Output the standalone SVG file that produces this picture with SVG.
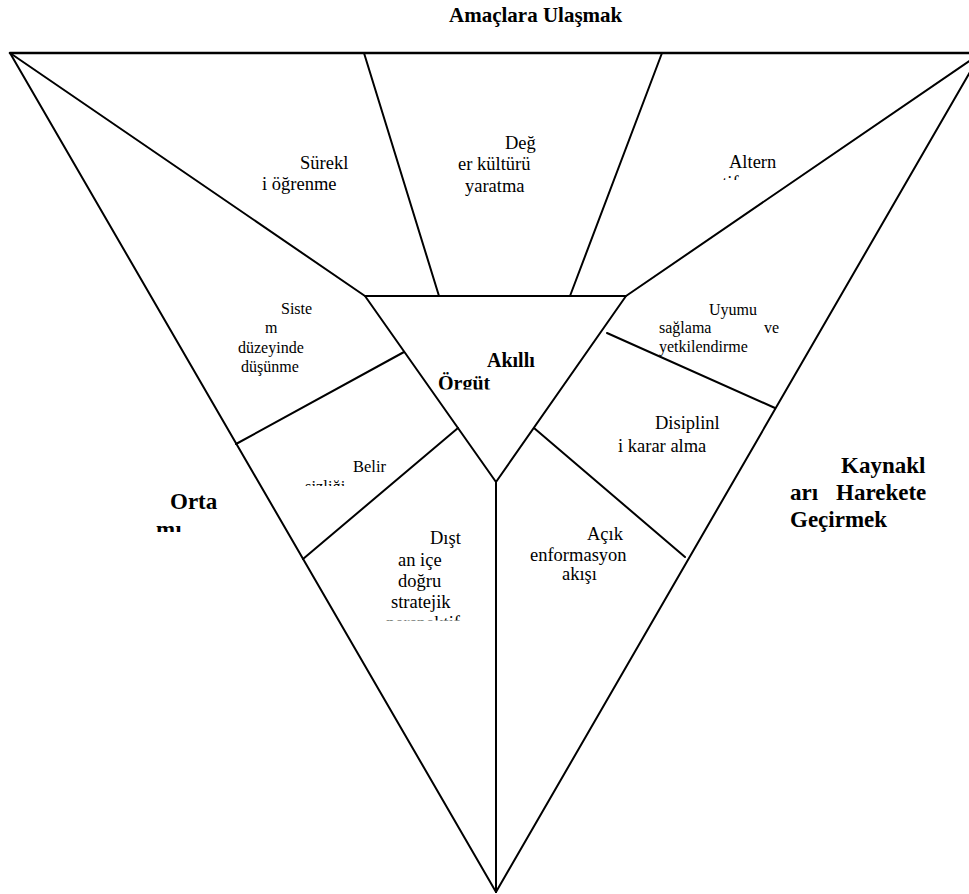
<svg xmlns="http://www.w3.org/2000/svg" width="969" height="894" viewBox="0 0 969 894">
<style>
.ln{stroke:#000;stroke-width:2;fill:none;stroke-linecap:round;stroke-linejoin:round}
.t{font-family:"Liberation Serif","Times New Roman",serif;fill:#000}
.r18{font-size:18.5px}
.r16{font-size:16px}
.b{font-weight:bold}
</style>
<defs>
<clipPath id="cAlt"><rect x="600" y="140" width="200" height="40"/></clipPath>
<clipPath id="cOrg"><rect x="400" y="340" width="200" height="49.5"/></clipPath>
<clipPath id="cBel"><rect x="290" y="450" width="120" height="36"/></clipPath>
<clipPath id="cOrta"><rect x="140" y="480" width="120" height="52"/></clipPath>
<clipPath id="cDis"><rect x="370" y="520" width="110" height="100.5"/></clipPath>
</defs>
<rect width="969" height="894" fill="#fff"/>
<g id="connectors">
<line class="ln" x1="10" y1="53" x2="985" y2="53" style="stroke-width:2.6"/>
<line class="ln" x1="10" y1="53" x2="496" y2="892"/>
<line class="ln" x1="981" y1="53" x2="496" y2="892"/>
<line class="ln" x1="10" y1="53" x2="365" y2="296"/>
<line class="ln" x1="981" y1="53" x2="626" y2="296"/>
<polygon class="ln" points="365,296 626,296 496,482"/>
<line class="ln" x1="364" y1="53" x2="439" y2="296"/>
<line class="ln" x1="662" y1="53" x2="570" y2="296"/>
<line class="ln" x1="496" y1="482" x2="496" y2="892"/>
<line class="ln" x1="404" y1="352" x2="236" y2="444"/>
<line class="ln" x1="458" y1="428" x2="303" y2="559"/>
<line class="ln" x1="607" y1="333" x2="775" y2="408"/>
<line class="ln" x1="534" y1="428" x2="685" y2="557"/>
</g>
<g id="title"><text class="t b" x="449" y="22" style="font-size:21px">Amaçlara Ulaşmak</text></g>
<g id="node-surekli" class="t r18"><text x="300" y="169">Sürekl</text><text x="262" y="190">i öğrenme</text></g>
<g id="node-deger" class="t r18"><text x="505" y="149">Değ</text><text x="458" y="170">er kültürü</text><text x="465" y="192">yaratma</text></g>
<g id="node-alternatif" class="t r18"><text x="729" y="168">Altern</text><text x="714" y="189" clip-path="url(#cAlt)">atif</text></g>
<g id="node-sistem" class="t r16"><text x="281" y="314">Siste</text><text x="265" y="333">m</text><text x="238" y="353">düzeyinde</text><text x="241" y="372">düşünme</text></g>
<g id="node-akilli" class="t b" style="font-size:20px"><text x="487" y="367">Akıllı</text><text x="438" y="390" clip-path="url(#cOrg)">Örgüt</text></g>
<g id="node-uyum" class="t r16"><text x="709" y="315">Uyumu</text><text x="659" y="333">sağlama</text><text x="764" y="333">ve</text><text x="659" y="352">yetkilendirme</text></g>
<g id="node-disiplin" class="t r18"><text x="655" y="429">Disiplinl</text><text x="618" y="452">i karar alma</text></g>
<g id="node-kaynak" class="t b" style="font-size:23px"><text x="841" y="473">Kaynakl</text><text x="790" y="500">arı</text><text x="836" y="500">Harekete</text><text x="790" y="527">Geçirmek</text></g>
<g id="node-belir" class="t" style="font-size:16.5px"><text x="353" y="472">Belir</text><text x="305" y="492" clip-path="url(#cBel)">sizliği</text></g>
<g id="node-orta" class="t b" style="font-size:23px"><text x="170" y="509">Orta</text><text x="156" y="537" clip-path="url(#cOrta)">mı</text></g>
<g id="node-distan" class="t r18" clip-path="url(#cDis)"><text x="430" y="544">Dışt</text><text x="398" y="566">an içe</text><text x="398" y="587">doğru</text><text x="391" y="608">stratejik</text><text x="386" y="629">perspektif</text></g>
<g id="node-acik" class="t r18"><text x="587" y="540">Açık</text><text x="530" y="561">enformasyon</text><text x="562" y="580">akışı</text></g>
</svg>
